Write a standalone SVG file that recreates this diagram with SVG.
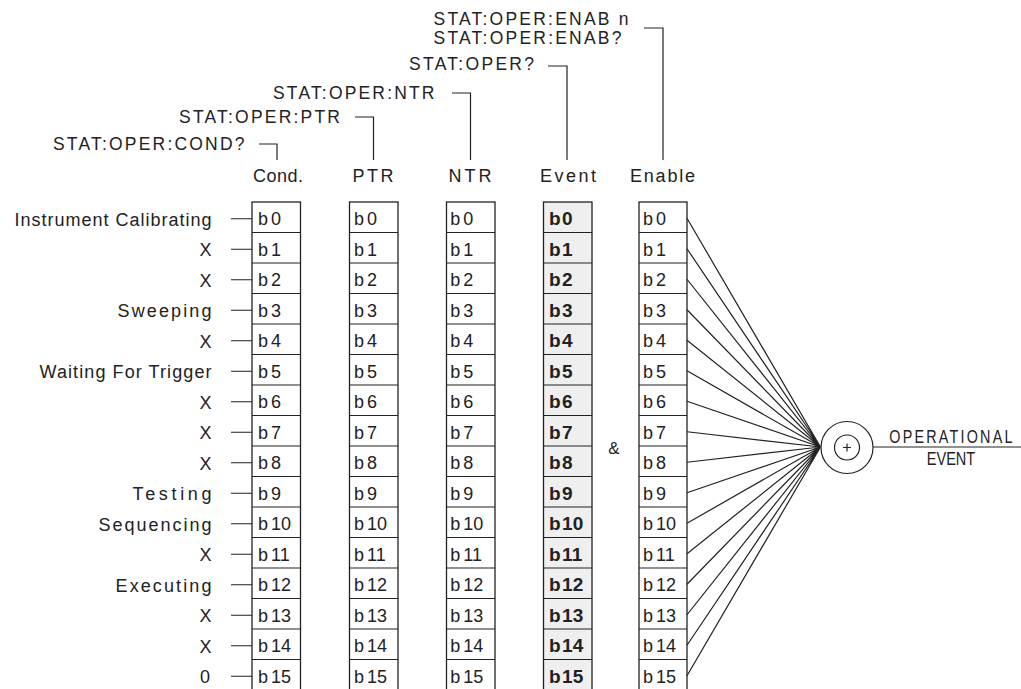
<svg xmlns="http://www.w3.org/2000/svg" width="1021" height="689" viewBox="0 0 1021 689">
<style>
text{font-family:"Liberation Sans",Arial,Helvetica,sans-serif;fill:#222}
.cell{font-size:18px}
.ev{font-size:19px;font-weight:bold}
.lbl{font-size:18px;text-anchor:end}
.hdr{font-size:18px;text-anchor:middle}
.cmd{font-size:17.5px}
.ln{stroke:#222;stroke-width:1.2;fill:none}
.box{stroke:#222;stroke-width:1.3;fill:#fff}
.evbox{stroke:#222;stroke-width:1.3;fill:#efefef}
</style>
<defs>
<path id="seps" d="M0,232.5h48.5M0,263h48.5M0,293.5h48.5M0,324h48.5M0,354.5h48.5M0,385h48.5M0,415.5h48.5M0,446h48.5M0,476.5h48.5M0,507h48.5M0,537.5h48.5M0,568h48.5M0,598.5h48.5M0,629h48.5M0,659.5h48.5"/>
</defs>

<g id="commands">
<text class="cmd" x="433.5" y="24.5" textLength="195" lengthAdjust="spacing">STAT:OPER:ENAB n</text>
<text class="cmd" x="433.5" y="43.5" textLength="188" lengthAdjust="spacing">STAT:OPER:ENAB?</text>
<text class="cmd" x="409" y="70" textLength="125" lengthAdjust="spacing">STAT:OPER?</text>
<text class="cmd" x="273" y="98.5" textLength="161.5" lengthAdjust="spacing">STAT:OPER:NTR</text>
<text class="cmd" x="179" y="123" textLength="161" lengthAdjust="spacing">STAT:OPER:PTR</text>
<text class="cmd" x="53" y="149.5" textLength="191.5" lengthAdjust="spacing">STAT:OPER:COND?</text>
</g>

<g id="headers">
<text class="hdr" x="278" y="182" textLength="50" lengthAdjust="spacing">Cond.</text>
<text class="hdr" x="373" y="182" textLength="41" lengthAdjust="spacing">PTR</text>
<text class="hdr" x="470" y="182" textLength="43" lengthAdjust="spacing">NTR</text>
<text class="hdr" x="568" y="182" textLength="56" lengthAdjust="spacing">Event</text>
<text class="hdr" x="662.5" y="182" textLength="65" lengthAdjust="spacing">Enable</text>
</g>

<g id="labels">
<text class="lbl" x="211.5" y="225.5" textLength="197" lengthAdjust="spacing">Instrument Calibrating</text>
<text class="lbl" x="211.5" y="256">X</text>
<text class="lbl" x="211.5" y="286.5">X</text>
<text class="lbl" x="211.5" y="317" textLength="94" lengthAdjust="spacing">Sweeping</text>
<text class="lbl" x="211.5" y="347.5">X</text>
<text class="lbl" x="211.5" y="378" textLength="172" lengthAdjust="spacing">Waiting For Trigger</text>
<text class="lbl" x="211.5" y="408.5">X</text>
<text class="lbl" x="211.5" y="439">X</text>
<text class="lbl" x="211.5" y="469.5">X</text>
<text class="lbl" x="211.5" y="500" textLength="79" lengthAdjust="spacing">Testing</text>
<text class="lbl" x="211.5" y="530.5" textLength="113" lengthAdjust="spacing">Sequencing</text>
<text class="lbl" x="211.5" y="561">X</text>
<text class="lbl" x="211.5" y="591.5" textLength="96" lengthAdjust="spacing">Executing</text>
<text class="lbl" x="211.5" y="622">X</text>
<text class="lbl" x="211.5" y="652.5">X</text>
<text class="lbl" x="210" y="683">0</text>
</g>

<g id="cond" transform="translate(252,0)">
<rect class="box" x="0" y="202" width="48.5" height="495"/>
<use href="#seps" class="ln"/>
<g class="cell">
<text x="6" y="225">b<tspan dx="3">0</tspan></text>
<text x="6" y="255.5">b<tspan dx="3">1</tspan></text>
<text x="6" y="286">b<tspan dx="3">2</tspan></text>
<text x="6" y="316.5">b<tspan dx="3">3</tspan></text>
<text x="6" y="347">b<tspan dx="3">4</tspan></text>
<text x="6" y="377.5">b<tspan dx="3">5</tspan></text>
<text x="6" y="408">b<tspan dx="3">6</tspan></text>
<text x="6" y="438.5">b<tspan dx="3">7</tspan></text>
<text x="6" y="469">b<tspan dx="3">8</tspan></text>
<text x="6" y="499.5">b<tspan dx="3">9</tspan></text>
<text x="6" y="530">b<tspan dx="3">10</tspan></text>
<text x="6" y="560.5">b<tspan dx="3">11</tspan></text>
<text x="6" y="591">b<tspan dx="3">12</tspan></text>
<text x="6" y="621.5">b<tspan dx="3">13</tspan></text>
<text x="6" y="652">b<tspan dx="3">14</tspan></text>
<text x="6" y="682.5">b<tspan dx="3">15</tspan></text>
</g>
</g>

<g id="ptr" transform="translate(349.5,0)">
<rect class="box" x="0" y="202" width="48.5" height="495"/>
<use href="#seps" class="ln"/>
<g class="cell">
<text x="4.5" y="225">b<tspan dx="3">0</tspan></text>
<text x="4.5" y="255.5">b<tspan dx="3">1</tspan></text>
<text x="4.5" y="286">b<tspan dx="3">2</tspan></text>
<text x="4.5" y="316.5">b<tspan dx="3">3</tspan></text>
<text x="4.5" y="347">b<tspan dx="3">4</tspan></text>
<text x="4.5" y="377.5">b<tspan dx="3">5</tspan></text>
<text x="4.5" y="408">b<tspan dx="3">6</tspan></text>
<text x="4.5" y="438.5">b<tspan dx="3">7</tspan></text>
<text x="4.5" y="469">b<tspan dx="3">8</tspan></text>
<text x="4.5" y="499.5">b<tspan dx="3">9</tspan></text>
<text x="4.5" y="530">b<tspan dx="3">10</tspan></text>
<text x="4.5" y="560.5">b<tspan dx="3">11</tspan></text>
<text x="4.5" y="591">b<tspan dx="3">12</tspan></text>
<text x="4.5" y="621.5">b<tspan dx="3">13</tspan></text>
<text x="4.5" y="652">b<tspan dx="3">14</tspan></text>
<text x="4.5" y="682.5">b<tspan dx="3">15</tspan></text>
</g>
</g>

<g id="ntr" transform="translate(446.5,0)">
<rect class="box" x="0" y="202" width="48.5" height="495"/>
<use href="#seps" class="ln"/>
<g class="cell">
<text x="3.8" y="225">b<tspan dx="3">0</tspan></text>
<text x="3.8" y="255.5">b<tspan dx="3">1</tspan></text>
<text x="3.8" y="286">b<tspan dx="3">2</tspan></text>
<text x="3.8" y="316.5">b<tspan dx="3">3</tspan></text>
<text x="3.8" y="347">b<tspan dx="3">4</tspan></text>
<text x="3.8" y="377.5">b<tspan dx="3">5</tspan></text>
<text x="3.8" y="408">b<tspan dx="3">6</tspan></text>
<text x="3.8" y="438.5">b<tspan dx="3">7</tspan></text>
<text x="3.8" y="469">b<tspan dx="3">8</tspan></text>
<text x="3.8" y="499.5">b<tspan dx="3">9</tspan></text>
<text x="3.8" y="530">b<tspan dx="3">10</tspan></text>
<text x="3.8" y="560.5">b<tspan dx="3">11</tspan></text>
<text x="3.8" y="591">b<tspan dx="3">12</tspan></text>
<text x="3.8" y="621.5">b<tspan dx="3">13</tspan></text>
<text x="3.8" y="652">b<tspan dx="3">14</tspan></text>
<text x="3.8" y="682.5">b<tspan dx="3">15</tspan></text>
</g>
</g>

<g id="event" transform="translate(543.5,0)">
<rect class="evbox" x="0" y="202" width="48.5" height="495"/>
<use href="#seps" class="ln"/>
<g class="ev">
<text x="5.5" y="225.3">b<tspan dx="1.5">0</tspan></text>
<text x="5.5" y="255.8">b<tspan dx="1.5">1</tspan></text>
<text x="5.5" y="286.3">b<tspan dx="1.5">2</tspan></text>
<text x="5.5" y="316.8">b<tspan dx="1.5">3</tspan></text>
<text x="5.5" y="347.3">b<tspan dx="1.5">4</tspan></text>
<text x="5.5" y="377.8">b<tspan dx="1.5">5</tspan></text>
<text x="5.5" y="408.3">b<tspan dx="1.5">6</tspan></text>
<text x="5.5" y="438.8">b<tspan dx="1.5">7</tspan></text>
<text x="5.5" y="469.3">b<tspan dx="1.5">8</tspan></text>
<text x="5.5" y="499.8">b<tspan dx="1.5">9</tspan></text>
<text x="5.5" y="530.3">b<tspan dx="1.5">10</tspan></text>
<text x="5.5" y="560.8">b<tspan dx="1.5">11</tspan></text>
<text x="5.5" y="591.3">b<tspan dx="1.5">12</tspan></text>
<text x="5.5" y="621.8">b<tspan dx="1.5">13</tspan></text>
<text x="5.5" y="652.3">b<tspan dx="1.5">14</tspan></text>
<text x="5.5" y="682.8">b<tspan dx="1.5">15</tspan></text>
</g>
</g>

<g id="enable" transform="translate(639,0)">
<rect class="box" x="0" y="202" width="48" height="495"/>
<use href="#seps" class="ln" transform="scale(0.99,1)"/>
<g class="cell">
<text x="4" y="225">b<tspan dx="3">0</tspan></text>
<text x="4" y="255.5">b<tspan dx="3">1</tspan></text>
<text x="4" y="286">b<tspan dx="3">2</tspan></text>
<text x="4" y="316.5">b<tspan dx="3">3</tspan></text>
<text x="4" y="347">b<tspan dx="3">4</tspan></text>
<text x="4" y="377.5">b<tspan dx="3">5</tspan></text>
<text x="4" y="408">b<tspan dx="3">6</tspan></text>
<text x="4" y="438.5">b<tspan dx="3">7</tspan></text>
<text x="4" y="469">b<tspan dx="3">8</tspan></text>
<text x="4" y="499.5">b<tspan dx="3">9</tspan></text>
<text x="4" y="530">b<tspan dx="3">10</tspan></text>
<text x="4" y="560.5">b<tspan dx="3">11</tspan></text>
<text x="4" y="591">b<tspan dx="3">12</tspan></text>
<text x="4" y="621.5">b<tspan dx="3">13</tspan></text>
<text x="4" y="652">b<tspan dx="3">14</tspan></text>
<text x="4" y="682.5">b<tspan dx="3">15</tspan></text>
</g>
</g>

<g id="and-op">
<text x="614" y="454" style="font-size:17px;text-anchor:middle">&amp;</text>
</g>

<g id="summary">
<circle cx="847" cy="447.5" r="26" class="ln"/>
<circle cx="847" cy="447.5" r="12.5" class="ln"/>
<path d="M843,447.5h8M847,443.5v8" class="ln"/>
</g>

<g id="output-label">
<text transform="translate(952,443) scale(0.82,1)" x="0" y="0" style="font-size:17.5px;letter-spacing:2.7px;text-anchor:middle">OPERATIONAL</text>
<text transform="translate(951,465) scale(0.83,1)" x="0" y="0" style="font-size:17.5px;text-anchor:middle">EVENT</text>
</g>

<g id="connectors" class="ln">
<path d="M259,144H277V160M355,117H373.5V160M452,93H470.5V160M548,66H567V160M644,28H663V160"/>
<path d="M231,218.75h21M231,249.25h21M231,279.75h21M231,310.25h21M231,340.75h21M231,371.25h21M231,401.75h21M231,432.25h21M231,462.75h21M231,493.25h21M231,523.75h21M231,554.25h21M231,584.75h21M231,615.25h21M231,645.75h21M231,676.25h21"/>
<path d="M687,218.25L820.5,447M687,248.75L820.5,447M687,279.25L820.5,447M687,309.75L820.5,447M687,340.25L820.5,447M687,370.75L820.5,447M687,401.25L820.5,447M687,431.75L820.5,447M687,462.25L820.5,447M687,492.75L820.5,447M687,523.25L820.5,447M687,553.75L820.5,447M687,584.25L820.5,447M687,614.75L820.5,447M687,645.25L820.5,447M687,675.75L820.5,447"/>
<path d="M873,447H1021"/>
</g>
</svg>
